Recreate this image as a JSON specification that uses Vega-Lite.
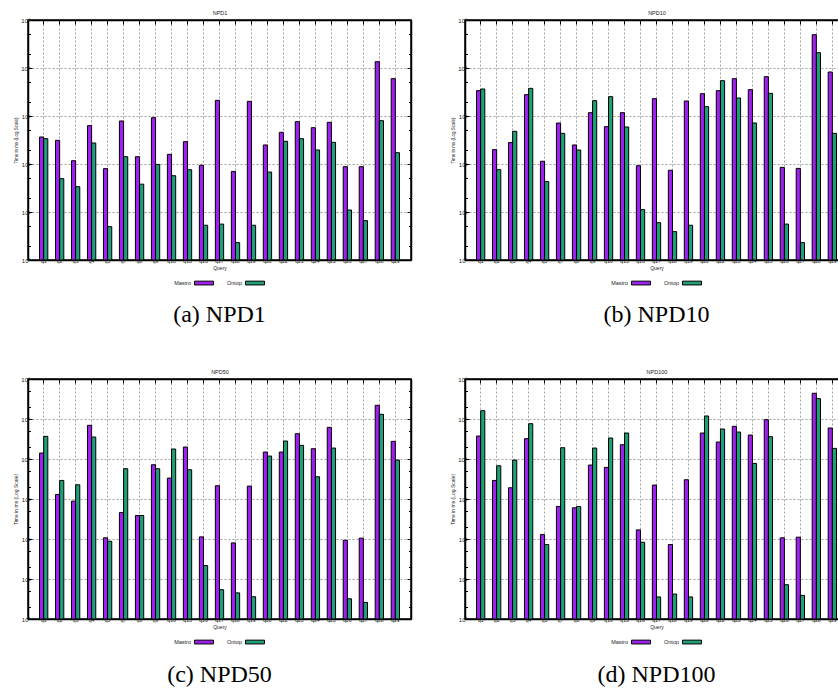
{
  "$schema": "https://vega.github.io/schema/vega-lite/v6.json",
  "padding": {"left": 12, "top": 9, "right": 0, "bottom": 0},
  "background": "white",
  "config": {
    "font": "Liberation Sans",
    "view": {"stroke": "black", "strokeWidth": 1.5},
    "axis": {"labelFont": "Liberation Sans", "labelFontSize": 5, "labelColor": "#222", "titleFont": "Liberation Sans", "titleFontSize": 5, "titleFontWeight": "normal", "titleColor": "#222", "domainColor": "black", "domainWidth": 1.5, "tickColor": "black", "tickWidth": 1, "gridColor": "#888", "gridDash": [2, 2], "gridWidth": 0.8},
    "legend": {"orient": "bottom", "direction": "horizontal", "title": null, "labelFontSize": 5.5, "labelColor": "#222", "symbolType": "M-1,-0.2H1V0.2H-1Z", "symbolSize": 361, "symbolStrokeColor": "black", "symbolStrokeWidth": 1, "symbolOffset": 21, "columnPadding": 8, "offset": 3, "labelAlign": "right", "labelOffset": -23, "padding": 0, "layout": {"bottom": {"anchor": "middle"}}},
    "title": {"font": "Liberation Serif", "fontSize": 24, "fontWeight": "normal", "color": "black"}
  },
  "datasets": {
    "npd": [
      {"dataset": "NPD1", "query": "q1", "system": "Mastro", "time": 365}, {"dataset": "NPD1", "query": "q1", "system": "Ontop", "time": 337},
      {"dataset": "NPD1", "query": "q2", "system": "Mastro", "time": 311}, {"dataset": "NPD1", "query": "q2", "system": "Ontop", "time": 49.5},
      {"dataset": "NPD1", "query": "q3", "system": "Mastro", "time": 117}, {"dataset": "NPD1", "query": "q3", "system": "Ontop", "time": 33.7},
      {"dataset": "NPD1", "query": "q4", "system": "Mastro", "time": 629}, {"dataset": "NPD1", "query": "q4", "system": "Ontop", "time": 274},
      {"dataset": "NPD1", "query": "q5", "system": "Mastro", "time": 80}, {"dataset": "NPD1", "query": "q5", "system": "Ontop", "time": 4.95},
      {"dataset": "NPD1", "query": "q7", "system": "Mastro", "time": 787}, {"dataset": "NPD1", "query": "q7", "system": "Ontop", "time": 142},
      {"dataset": "NPD1", "query": "q8", "system": "Mastro", "time": 142}, {"dataset": "NPD1", "query": "q8", "system": "Ontop", "time": 38},
      {"dataset": "NPD1", "query": "q9", "system": "Mastro", "time": 923}, {"dataset": "NPD1", "query": "q9", "system": "Ontop", "time": 98},
      {"dataset": "NPD1", "query": "q10", "system": "Mastro", "time": 159}, {"dataset": "NPD1", "query": "q10", "system": "Ontop", "time": 57},
      {"dataset": "NPD1", "query": "q15", "system": "Mastro", "time": 292}, {"dataset": "NPD1", "query": "q15", "system": "Ontop", "time": 76},
      {"dataset": "NPD1", "query": "q16", "system": "Mastro", "time": 94}, {"dataset": "NPD1", "query": "q16", "system": "Ontop", "time": 5.3},
      {"dataset": "NPD1", "query": "q17", "system": "Mastro", "time": 2120}, {"dataset": "NPD1", "query": "q17", "system": "Ontop", "time": 5.6},
      {"dataset": "NPD1", "query": "q18", "system": "Mastro", "time": 70}, {"dataset": "NPD1", "query": "q18", "system": "Ontop", "time": 2.3},
      {"dataset": "NPD1", "query": "q19", "system": "Mastro", "time": 2020}, {"dataset": "NPD1", "query": "q19", "system": "Ontop", "time": 5.3},
      {"dataset": "NPD1", "query": "q20", "system": "Mastro", "time": 249}, {"dataset": "NPD1", "query": "q20", "system": "Ontop", "time": 68},
      {"dataset": "NPD1", "query": "q22", "system": "Mastro", "time": 457}, {"dataset": "NPD1", "query": "q22", "system": "Ontop", "time": 297},
      {"dataset": "NPD1", "query": "q23", "system": "Mastro", "time": 762}, {"dataset": "NPD1", "query": "q23", "system": "Ontop", "time": 337},
      {"dataset": "NPD1", "query": "q24", "system": "Mastro", "time": 571}, {"dataset": "NPD1", "query": "q24", "system": "Ontop", "time": 196},
      {"dataset": "NPD1", "query": "q25", "system": "Mastro", "time": 738}, {"dataset": "NPD1", "query": "q25", "system": "Ontop", "time": 283},
      {"dataset": "NPD1", "query": "q26", "system": "Mastro", "time": 88}, {"dataset": "NPD1", "query": "q26", "system": "Ontop", "time": 11},
      {"dataset": "NPD1", "query": "q27", "system": "Mastro", "time": 88}, {"dataset": "NPD1", "query": "q27", "system": "Ontop", "time": 6.6},
      {"dataset": "NPD1", "query": "q28", "system": "Mastro", "time": 13550}, {"dataset": "NPD1", "query": "q28", "system": "Ontop", "time": 800},
      {"dataset": "NPD1", "query": "q29", "system": "Mastro", "time": 6000}, {"dataset": "NPD1", "query": "q29", "system": "Ontop", "time": 172},

      {"dataset": "NPD10", "query": "q1", "system": "Mastro", "time": 3373}, {"dataset": "NPD10", "query": "q1", "system": "Ontop", "time": 3652},
      {"dataset": "NPD10", "query": "q2", "system": "Mastro", "time": 199}, {"dataset": "NPD10", "query": "q2", "system": "Ontop", "time": 76},
      {"dataset": "NPD10", "query": "q3", "system": "Mastro", "time": 280}, {"dataset": "NPD10", "query": "q3", "system": "Ontop", "time": 480},
      {"dataset": "NPD10", "query": "q4", "system": "Mastro", "time": 2783}, {"dataset": "NPD10", "query": "q4", "system": "Ontop", "time": 3768},
      {"dataset": "NPD10", "query": "q5", "system": "Mastro", "time": 114}, {"dataset": "NPD10", "query": "q5", "system": "Ontop", "time": 43},
      {"dataset": "NPD10", "query": "q7", "system": "Mastro", "time": 714}, {"dataset": "NPD10", "query": "q7", "system": "Ontop", "time": 435},
      {"dataset": "NPD10", "query": "q8", "system": "Mastro", "time": 249}, {"dataset": "NPD10", "query": "q8", "system": "Ontop", "time": 196},
      {"dataset": "NPD10", "query": "q9", "system": "Mastro", "time": 1173}, {"dataset": "NPD10", "query": "q9", "system": "Ontop", "time": 2086},
      {"dataset": "NPD10", "query": "q10", "system": "Mastro", "time": 600}, {"dataset": "NPD10", "query": "q10", "system": "Ontop", "time": 2529},
      {"dataset": "NPD10", "query": "q15", "system": "Mastro", "time": 1173}, {"dataset": "NPD10", "query": "q15", "system": "Ontop", "time": 590},
      {"dataset": "NPD10", "query": "q16", "system": "Mastro", "time": 92}, {"dataset": "NPD10", "query": "q16", "system": "Ontop", "time": 11.2},
      {"dataset": "NPD10", "query": "q17", "system": "Mastro", "time": 2297}, {"dataset": "NPD10", "query": "q17", "system": "Ontop", "time": 6.0},
      {"dataset": "NPD10", "query": "q18", "system": "Mastro", "time": 74}, {"dataset": "NPD10", "query": "q18", "system": "Ontop", "time": 3.9},
      {"dataset": "NPD10", "query": "q19", "system": "Mastro", "time": 2054}, {"dataset": "NPD10", "query": "q19", "system": "Ontop", "time": 5.3},
      {"dataset": "NPD10", "query": "q20", "system": "Mastro", "time": 2918}, {"dataset": "NPD10", "query": "q20", "system": "Ontop", "time": 1565},
      {"dataset": "NPD10", "query": "q22", "system": "Mastro", "time": 3373}, {"dataset": "NPD10", "query": "q22", "system": "Ontop", "time": 5445},
      {"dataset": "NPD10", "query": "q23", "system": "Mastro", "time": 5995}, {"dataset": "NPD10", "query": "q23", "system": "Ontop", "time": 2371},
      {"dataset": "NPD10", "query": "q24", "system": "Mastro", "time": 3537}, {"dataset": "NPD10", "query": "q24", "system": "Ontop", "time": 715},
      {"dataset": "NPD10", "query": "q25", "system": "Mastro", "time": 6598}, {"dataset": "NPD10", "query": "q25", "system": "Ontop", "time": 2965},
      {"dataset": "NPD10", "query": "q26", "system": "Mastro", "time": 85}, {"dataset": "NPD10", "query": "q26", "system": "Ontop", "time": 5.6},
      {"dataset": "NPD10", "query": "q27", "system": "Mastro", "time": 81}, {"dataset": "NPD10", "query": "q27", "system": "Ontop", "time": 2.3},
      {"dataset": "NPD10", "query": "q28", "system": "Mastro", "time": 49450}, {"dataset": "NPD10", "query": "q28", "system": "Ontop", "time": 20860},
      {"dataset": "NPD10", "query": "q29", "system": "Mastro", "time": 8254}, {"dataset": "NPD10", "query": "q29", "system": "Ontop", "time": 435},

      {"dataset": "NPD50", "query": "q1", "system": "Mastro", "time": 14090}, {"dataset": "NPD50", "query": "q1", "system": "Ontop", "time": 36810},
      {"dataset": "NPD50", "query": "q2", "system": "Mastro", "time": 1299}, {"dataset": "NPD50", "query": "q2", "system": "Ontop", "time": 2911},
      {"dataset": "NPD50", "query": "q3", "system": "Mastro", "time": 885}, {"dataset": "NPD50", "query": "q3", "system": "Ontop", "time": 2268},
      {"dataset": "NPD50", "query": "q4", "system": "Mastro", "time": 69400}, {"dataset": "NPD50", "query": "q4", "system": "Ontop", "time": 35400},
      {"dataset": "NPD50", "query": "q5", "system": "Mastro", "time": 107}, {"dataset": "NPD50", "query": "q5", "system": "Ontop", "time": 88},
      {"dataset": "NPD50", "query": "q7", "system": "Mastro", "time": 460}, {"dataset": "NPD50", "query": "q7", "system": "Ontop", "time": 5705},
      {"dataset": "NPD50", "query": "q8", "system": "Mastro", "time": 387}, {"dataset": "NPD50", "query": "q8", "system": "Ontop", "time": 387},
      {"dataset": "NPD50", "query": "q9", "system": "Mastro", "time": 7180}, {"dataset": "NPD50", "query": "q9", "system": "Ontop", "time": 5705},
      {"dataset": "NPD50", "query": "q10", "system": "Mastro", "time": 3333}, {"dataset": "NPD50", "query": "q10", "system": "Ontop", "time": 17740},
      {"dataset": "NPD50", "query": "q15", "system": "Mastro", "time": 19900}, {"dataset": "NPD50", "query": "q15", "system": "Ontop", "time": 5385},
      {"dataset": "NPD50", "query": "q16", "system": "Mastro", "time": 113}, {"dataset": "NPD50", "query": "q16", "system": "Ontop", "time": 21.7},
      {"dataset": "NPD50", "query": "q17", "system": "Mastro", "time": 2142}, {"dataset": "NPD50", "query": "q17", "system": "Ontop", "time": 5.4},
      {"dataset": "NPD50", "query": "q18", "system": "Mastro", "time": 80}, {"dataset": "NPD50", "query": "q18", "system": "Ontop", "time": 4.5},
      {"dataset": "NPD50", "query": "q19", "system": "Mastro", "time": 2100}, {"dataset": "NPD50", "query": "q19", "system": "Ontop", "time": 3.6},
      {"dataset": "NPD50", "query": "q20", "system": "Mastro", "time": 14920}, {"dataset": "NPD50", "query": "q20", "system": "Ontop", "time": 11840},
      {"dataset": "NPD50", "query": "q22", "system": "Mastro", "time": 14920}, {"dataset": "NPD50", "query": "q22", "system": "Ontop", "time": 28120},
      {"dataset": "NPD50", "query": "q23", "system": "Mastro", "time": 42930}, {"dataset": "NPD50", "query": "q23", "system": "Ontop", "time": 21920},
      {"dataset": "NPD50", "query": "q24", "system": "Mastro", "time": 18080}, {"dataset": "NPD50", "query": "q24", "system": "Ontop", "time": 3597},
      {"dataset": "NPD50", "query": "q25", "system": "Mastro", "time": 61840}, {"dataset": "NPD50", "query": "q25", "system": "Ontop", "time": 18780},
      {"dataset": "NPD50", "query": "q26", "system": "Mastro", "time": 93}, {"dataset": "NPD50", "query": "q26", "system": "Ontop", "time": 3.2},
      {"dataset": "NPD50", "query": "q27", "system": "Mastro", "time": 105}, {"dataset": "NPD50", "query": "q27", "system": "Ontop", "time": 2.6},
      {"dataset": "NPD50", "query": "q28", "system": "Mastro", "time": 220000}, {"dataset": "NPD50", "query": "q28", "system": "Ontop", "time": 131000},
      {"dataset": "NPD50", "query": "q29", "system": "Mastro", "time": 27600}, {"dataset": "NPD50", "query": "q29", "system": "Ontop", "time": 9400},

      {"dataset": "NPD100", "query": "q1", "system": "Mastro", "time": 37500}, {"dataset": "NPD100", "query": "q1", "system": "Ontop", "time": 161800},
      {"dataset": "NPD100", "query": "q2", "system": "Mastro", "time": 2911}, {"dataset": "NPD100", "query": "q2", "system": "Ontop", "time": 6780},
      {"dataset": "NPD100", "query": "q3", "system": "Mastro", "time": 1907}, {"dataset": "NPD100", "query": "q3", "system": "Ontop", "time": 9400},
      {"dataset": "NPD100", "query": "q4", "system": "Mastro", "time": 32200}, {"dataset": "NPD100", "query": "q4", "system": "Ontop", "time": 76400},
      {"dataset": "NPD100", "query": "q5", "system": "Mastro", "time": 129}, {"dataset": "NPD100", "query": "q5", "system": "Ontop", "time": 72.7},
      {"dataset": "NPD100", "query": "q7", "system": "Mastro", "time": 650}, {"dataset": "NPD100", "query": "q7", "system": "Ontop", "time": 19150},
      {"dataset": "NPD100", "query": "q8", "system": "Mastro", "time": 602}, {"dataset": "NPD100", "query": "q8", "system": "Ontop", "time": 650},
      {"dataset": "NPD100", "query": "q9", "system": "Mastro", "time": 7050}, {"dataset": "NPD100", "query": "q9", "system": "Ontop", "time": 18780},
      {"dataset": "NPD100", "query": "q10", "system": "Mastro", "time": 6160}, {"dataset": "NPD100", "query": "q10", "system": "Ontop", "time": 33440},
      {"dataset": "NPD100", "query": "q15", "system": "Mastro", "time": 22760}, {"dataset": "NPD100", "query": "q15", "system": "Ontop", "time": 44600},
      {"dataset": "NPD100", "query": "q16", "system": "Mastro", "time": 169}, {"dataset": "NPD100", "query": "q16", "system": "Ontop", "time": 83},
      {"dataset": "NPD100", "query": "q17", "system": "Mastro", "time": 2225}, {"dataset": "NPD100", "query": "q17", "system": "Ontop", "time": 3.56},
      {"dataset": "NPD100", "query": "q18", "system": "Mastro", "time": 72.7}, {"dataset": "NPD100", "query": "q18", "system": "Ontop", "time": 4.2},
      {"dataset": "NPD100", "query": "q19", "system": "Mastro", "time": 3028}, {"dataset": "NPD100", "query": "q19", "system": "Ontop", "time": 3.56},
      {"dataset": "NPD100", "query": "q20", "system": "Mastro", "time": 44600}, {"dataset": "NPD100", "query": "q20", "system": "Ontop", "time": 118900},
      {"dataset": "NPD100", "query": "q22", "system": "Mastro", "time": 26550}, {"dataset": "NPD100", "query": "q22", "system": "Ontop", "time": 56200},
      {"dataset": "NPD100", "query": "q23", "system": "Mastro", "time": 65500}, {"dataset": "NPD100", "query": "q23", "system": "Ontop", "time": 47200},
      {"dataset": "NPD100", "query": "q24", "system": "Mastro", "time": 39700}, {"dataset": "NPD100", "query": "q24", "system": "Ontop", "time": 7760},
      {"dataset": "NPD100", "query": "q25", "system": "Mastro", "time": 96200}, {"dataset": "NPD100", "query": "q25", "system": "Ontop", "time": 36100},
      {"dataset": "NPD100", "query": "q26", "system": "Mastro", "time": 107}, {"dataset": "NPD100", "query": "q26", "system": "Ontop", "time": 7.2},
      {"dataset": "NPD100", "query": "q27", "system": "Mastro", "time": 111}, {"dataset": "NPD100", "query": "q27", "system": "Ontop", "time": 3.9},
      {"dataset": "NPD100", "query": "q28", "system": "Mastro", "time": 439500}, {"dataset": "NPD100", "query": "q28", "system": "Ontop", "time": 323000},
      {"dataset": "NPD100", "query": "q29", "system": "Mastro", "time": 59550}, {"dataset": "NPD100", "query": "q29", "system": "Ontop", "time": 18420}
    ]
  },
  "vconcat": [
    {
      "hconcat": [
        {
          "width": 383, "height": 240,
          "title": {"text": "(a) NPD1", "orient": "bottom", "offset": 16, "anchor": "middle"},
          "data": {"name": "npd"},
          "transform": [{"filter": "datum.dataset == 'NPD1'"}],
          "layer": [
            {
              "mark": {"type": "bar", "stroke": "black", "strokeWidth": 1},
              "encoding": {
                "x": {"field": "query", "type": "nominal", "sort": ["q1","q2","q3","q4","q5","q7","q8","q9","q10","q15","q16","q17","q18","q19","q20","q22","q23","q24","q25","q26","q27","q28","q29"], "scale": {"paddingInner": 0.48, "paddingOuter": 0.72}, "axis": {"orient": "bottom", "title": "Query", "labelAngle": 0, "grid": true, "bandPosition": 0.5, "tickSize": -4, "labelPadding": 2, "titlePadding": 2}},
                "xOffset": {"field": "system", "type": "nominal", "scale": {"paddingInner": 0, "paddingOuter": 0}},
                "y": {"field": "time", "type": "quantitative", "stack": null, "scale": {"type": "log", "domain": [1, 100000], "nice": false}, "axis": {"orient": "left", "title": "Time in ms (Log Scale)", "titleFontSize": 4.5, "titlePadding": 2, "labelFontSize": 6, "values": [1,2,5,10,20,50,100,200,500,1000,2000,5000,10000,20000,50000,100000], "labelExpr": "abs(log(datum.value)/LN10 - round(log(datum.value)/LN10)) < 0.01 ? '10' + ['⁰','¹','²','³','⁴','⁵','⁶'][round(log(datum.value)/LN10)] : ''", "grid": true, "gridOpacity": {"condition": {"test": "abs(log(datum.value)/LN10 - round(log(datum.value)/LN10)) < 0.01", "value": 1}, "value": 0}, "tickSize": {"condition": {"test": "abs(log(datum.value)/LN10 - round(log(datum.value)/LN10)) < 0.01", "value": -4}, "value": -2.5}, "labelPadding": 2}},
                "y2": {"datum": 1},
                "color": {"field": "system", "type": "nominal", "scale": {"domain": ["Mastro", "Ontop"], "range": ["#a020f0", "#1f9e78"]}}
              }
            },
            {
              "mark": {"type": "point", "opacity": 0},
              "encoding": {
                "x": {"field": "query", "type": "nominal", "sort": ["q1","q2","q3","q4","q5","q7","q8","q9","q10","q15","q16","q17","q18","q19","q20","q22","q23","q24","q25","q26","q27","q28","q29"], "axis": {"orient": "top", "title": "NPD1", "titleFontSize": 5.5, "titlePadding": 4, "labels": false, "grid": false, "bandPosition": 0.5, "tickSize": -4}},
                "y": {"field": "time", "type": "quantitative", "axis": {"orient": "right", "title": null, "labels": false, "grid": false, "values": [1,2,5,10,20,50,100,200,500,1000,2000,5000,10000,20000,50000,100000], "tickSize": {"condition": {"test": "abs(log(datum.value)/LN10 - round(log(datum.value)/LN10)) < 0.01", "value": -4}, "value": -2.5}}}
              }
            }
          ],
          "resolve": {"axis": {"x": "independent", "y": "independent"}}
        },
        {
          "width": 383, "height": 240,
          "title": {"text": "(b) NPD10", "orient": "bottom", "offset": 16, "anchor": "middle"},
          "data": {"name": "npd"},
          "transform": [{"filter": "datum.dataset == 'NPD10'"}],
          "layer": [
            {
              "mark": {"type": "bar", "stroke": "black", "strokeWidth": 1},
              "encoding": {
                "x": {"field": "query", "type": "nominal", "sort": ["q1","q2","q3","q4","q5","q7","q8","q9","q10","q15","q16","q17","q18","q19","q20","q22","q23","q24","q25","q26","q27","q28","q29"], "scale": {"paddingInner": 0.48, "paddingOuter": 0.72}, "axis": {"orient": "bottom", "title": "Query", "labelAngle": 0, "grid": true, "bandPosition": 0.5, "tickSize": -4, "labelPadding": 2, "titlePadding": 2}},
                "xOffset": {"field": "system", "type": "nominal", "scale": {"paddingInner": 0, "paddingOuter": 0}},
                "y": {"field": "time", "type": "quantitative", "stack": null, "scale": {"type": "log", "domain": [1, 100000], "nice": false}, "axis": {"orient": "left", "title": "Time in ms (Log Scale)", "titleFontSize": 4.5, "titlePadding": 2, "labelFontSize": 6, "values": [1,2,5,10,20,50,100,200,500,1000,2000,5000,10000,20000,50000,100000], "labelExpr": "abs(log(datum.value)/LN10 - round(log(datum.value)/LN10)) < 0.01 ? '10' + ['⁰','¹','²','³','⁴','⁵','⁶'][round(log(datum.value)/LN10)] : ''", "grid": true, "gridOpacity": {"condition": {"test": "abs(log(datum.value)/LN10 - round(log(datum.value)/LN10)) < 0.01", "value": 1}, "value": 0}, "tickSize": {"condition": {"test": "abs(log(datum.value)/LN10 - round(log(datum.value)/LN10)) < 0.01", "value": -4}, "value": -2.5}, "labelPadding": 2}},
                "y2": {"datum": 1},
                "color": {"field": "system", "type": "nominal", "scale": {"domain": ["Mastro", "Ontop"], "range": ["#a020f0", "#1f9e78"]}}
              }
            },
            {
              "mark": {"type": "point", "opacity": 0},
              "encoding": {
                "x": {"field": "query", "type": "nominal", "sort": ["q1","q2","q3","q4","q5","q7","q8","q9","q10","q15","q16","q17","q18","q19","q20","q22","q23","q24","q25","q26","q27","q28","q29"], "axis": {"orient": "top", "title": "NPD10", "titleFontSize": 5.5, "titlePadding": 4, "labels": false, "grid": false, "bandPosition": 0.5, "tickSize": -4}},
                "y": {"field": "time", "type": "quantitative", "axis": {"orient": "right", "title": null, "labels": false, "grid": false, "values": [1,2,5,10,20,50,100,200,500,1000,2000,5000,10000,20000,50000,100000], "tickSize": {"condition": {"test": "abs(log(datum.value)/LN10 - round(log(datum.value)/LN10)) < 0.01", "value": -4}, "value": -2.5}}}
              }
            }
          ],
          "resolve": {"axis": {"x": "independent", "y": "independent"}}
        }
      ],
      "spacing": 36,
      "resolve": {"scale": {"color": "independent"}, "legend": {"color": "independent"}}
    },
    {
      "hconcat": [
        {
          "width": 383, "height": 240,
          "title": {"text": "(c) NPD50", "orient": "bottom", "offset": 17, "anchor": "middle"},
          "data": {"name": "npd"},
          "transform": [{"filter": "datum.dataset == 'NPD50'"}],
          "layer": [
            {
              "mark": {"type": "bar", "stroke": "black", "strokeWidth": 1},
              "encoding": {
                "x": {"field": "query", "type": "nominal", "sort": ["q1","q2","q3","q4","q5","q7","q8","q9","q10","q15","q16","q17","q18","q19","q20","q22","q23","q24","q25","q26","q27","q28","q29"], "scale": {"paddingInner": 0.48, "paddingOuter": 0.72}, "axis": {"orient": "bottom", "title": "Query", "labelAngle": 0, "grid": true, "bandPosition": 0.5, "tickSize": -4, "labelPadding": 2, "titlePadding": 2}},
                "xOffset": {"field": "system", "type": "nominal", "scale": {"paddingInner": 0, "paddingOuter": 0}},
                "y": {"field": "time", "type": "quantitative", "stack": null, "scale": {"type": "log", "domain": [1, 1000000], "nice": false}, "axis": {"orient": "left", "title": "Time in ms (Log Scale)", "titleFontSize": 5, "titlePadding": 2, "labelFontSize": 6, "values": [1,2,5,10,20,50,100,200,500,1000,2000,5000,10000,20000,50000,100000,200000,500000,1000000], "labelExpr": "abs(log(datum.value)/LN10 - round(log(datum.value)/LN10)) < 0.01 ? '10' + ['⁰','¹','²','³','⁴','⁵','⁶'][round(log(datum.value)/LN10)] : ''", "grid": true, "gridOpacity": {"condition": {"test": "abs(log(datum.value)/LN10 - round(log(datum.value)/LN10)) < 0.01", "value": 1}, "value": 0}, "tickSize": {"condition": {"test": "abs(log(datum.value)/LN10 - round(log(datum.value)/LN10)) < 0.01", "value": -4}, "value": -2.5}, "labelPadding": 2}},
                "y2": {"datum": 1},
                "color": {"field": "system", "type": "nominal", "scale": {"domain": ["Mastro", "Ontop"], "range": ["#a020f0", "#1f9e78"]}}
              }
            },
            {
              "mark": {"type": "point", "opacity": 0},
              "encoding": {
                "x": {"field": "query", "type": "nominal", "sort": ["q1","q2","q3","q4","q5","q7","q8","q9","q10","q15","q16","q17","q18","q19","q20","q22","q23","q24","q25","q26","q27","q28","q29"], "axis": {"orient": "top", "title": "NPD50", "titleFontSize": 5.5, "titlePadding": 4, "labels": false, "grid": false, "bandPosition": 0.5, "tickSize": -4}},
                "y": {"field": "time", "type": "quantitative", "axis": {"orient": "right", "title": null, "labels": false, "grid": false, "values": [1,2,5,10,20,50,100,200,500,1000,2000,5000,10000,20000,50000,100000,200000,500000,1000000], "tickSize": {"condition": {"test": "abs(log(datum.value)/LN10 - round(log(datum.value)/LN10)) < 0.01", "value": -4}, "value": -2.5}}}
              }
            }
          ],
          "resolve": {"axis": {"x": "independent", "y": "independent"}}
        },
        {
          "width": 383, "height": 240,
          "title": {"text": "(d) NPD100", "orient": "bottom", "offset": 17, "anchor": "middle"},
          "data": {"name": "npd"},
          "transform": [{"filter": "datum.dataset == 'NPD100'"}],
          "layer": [
            {
              "mark": {"type": "bar", "stroke": "black", "strokeWidth": 1},
              "encoding": {
                "x": {"field": "query", "type": "nominal", "sort": ["q1","q2","q3","q4","q5","q7","q8","q9","q10","q15","q16","q17","q18","q19","q20","q22","q23","q24","q25","q26","q27","q28","q29"], "scale": {"paddingInner": 0.48, "paddingOuter": 0.72}, "axis": {"orient": "bottom", "title": "Query", "labelAngle": 0, "grid": true, "bandPosition": 0.5, "tickSize": -4, "labelPadding": 2, "titlePadding": 2}},
                "xOffset": {"field": "system", "type": "nominal", "scale": {"paddingInner": 0, "paddingOuter": 0}},
                "y": {"field": "time", "type": "quantitative", "stack": null, "scale": {"type": "log", "domain": [1, 1000000], "nice": false}, "axis": {"orient": "left", "title": "Time in ms (Log Scale)", "titleFontSize": 5, "titlePadding": 2, "labelFontSize": 6, "values": [1,2,5,10,20,50,100,200,500,1000,2000,5000,10000,20000,50000,100000,200000,500000,1000000], "labelExpr": "abs(log(datum.value)/LN10 - round(log(datum.value)/LN10)) < 0.01 ? '10' + ['⁰','¹','²','³','⁴','⁵','⁶'][round(log(datum.value)/LN10)] : ''", "grid": true, "gridOpacity": {"condition": {"test": "abs(log(datum.value)/LN10 - round(log(datum.value)/LN10)) < 0.01", "value": 1}, "value": 0}, "tickSize": {"condition": {"test": "abs(log(datum.value)/LN10 - round(log(datum.value)/LN10)) < 0.01", "value": -4}, "value": -2.5}, "labelPadding": 2}},
                "y2": {"datum": 1},
                "color": {"field": "system", "type": "nominal", "scale": {"domain": ["Mastro", "Ontop"], "range": ["#a020f0", "#1f9e78"]}}
              }
            },
            {
              "mark": {"type": "point", "opacity": 0},
              "encoding": {
                "x": {"field": "query", "type": "nominal", "sort": ["q1","q2","q3","q4","q5","q7","q8","q9","q10","q15","q16","q17","q18","q19","q20","q22","q23","q24","q25","q26","q27","q28","q29"], "axis": {"orient": "top", "title": "NPD100", "titleFontSize": 5.5, "titlePadding": 4, "labels": false, "grid": false, "bandPosition": 0.5, "tickSize": -4}},
                "y": {"field": "time", "type": "quantitative", "axis": {"orient": "right", "title": null, "labels": false, "grid": false, "values": [1,2,5,10,20,50,100,200,500,1000,2000,5000,10000,20000,50000,100000,200000,500000,1000000], "tickSize": {"condition": {"test": "abs(log(datum.value)/LN10 - round(log(datum.value)/LN10)) < 0.01", "value": -4}, "value": -2.5}}}
              }
            }
          ],
          "resolve": {"axis": {"x": "independent", "y": "independent"}}
        }
      ],
      "spacing": 36,
      "resolve": {"scale": {"color": "independent"}, "legend": {"color": "independent"}}
    }
  ],
  "spacing": 40,
  "resolve": {"scale": {"color": "independent"}, "legend": {"color": "independent"}}
}
